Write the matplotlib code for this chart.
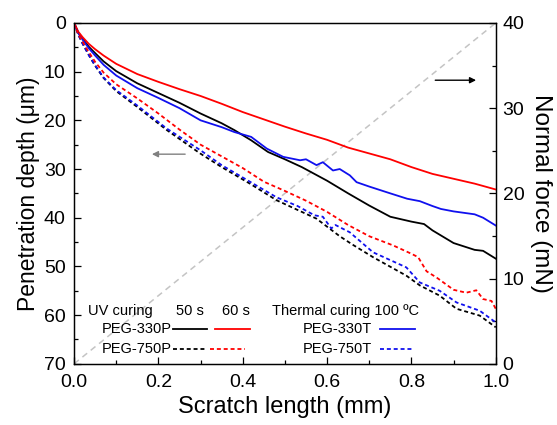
import numpy as np
import matplotlib.pyplot as plt

plt.rcParams['font.family'] = ['Liberation Sans', 'DejaVu Sans']

# --- data ---
# PEG-330P, UV curing 60 s
x_330p_60 = [0, 0.01, 0.02, 0.035, 0.05, 0.07, 0.1, 0.15, 0.2, 0.25, 0.3, 0.35, 0.4,
             0.45, 0.5, 0.55, 0.6, 0.65, 0.7, 0.75, 0.8, 0.85, 0.9, 0.95, 1.0]
d_330p_60 = [0, 1.8, 2.9, 4.3, 5.4, 6.7, 8.4, 10.5, 12.1, 13.6, 15.0, 16.6, 18.3,
             19.8, 21.3, 22.7, 24.0, 25.6, 26.8, 28.0, 29.6, 31.0, 32.0, 33.0, 34.2]

# PEG-330P, UV curing 50 s
x_330p_50 = [0, 0.01, 0.02, 0.035, 0.05, 0.07, 0.1, 0.15, 0.2, 0.25, 0.3, 0.35, 0.38,
             0.42, 0.46, 0.5, 0.54, 0.6, 0.65, 0.7, 0.75, 0.8, 0.83, 0.85, 0.9, 0.95,
             0.97, 1.0]
d_330p_50 = [0, 2.0, 3.2, 4.9, 6.2, 7.9, 9.9, 12.4, 14.4, 16.4, 18.6, 20.6, 22.0,
             24.1, 26.5, 28.0, 29.6, 32.4, 35.0, 37.5, 39.8, 40.8, 41.3, 42.6, 45.2,
             46.6, 46.8, 48.4]

# PEG-330T, thermal curing 100 C
x_330t = [0, 0.01, 0.02, 0.035, 0.05, 0.07, 0.1, 0.15, 0.2, 0.25, 0.3, 0.35, 0.38,
          0.42, 0.457, 0.496, 0.536, 0.55, 0.575, 0.59, 0.614, 0.63, 0.654, 0.67,
          0.7, 0.75, 0.79, 0.82, 0.85, 0.87, 0.9, 0.95, 0.97, 1.0]
d_330t = [0, 2.1, 3.4, 5.2, 6.7, 8.6, 10.8, 13.4, 15.4, 17.5, 20.0, 21.4, 22.4,
          23.4, 25.8, 27.5, 28.2, 28.0, 29.2, 28.6, 30.3, 30.0, 31.3, 32.7,
          33.6, 35.0, 36.1, 36.6, 37.6, 38.2, 38.7, 39.3, 40.0, 41.6]

# PEG-750P, UV curing 60 s
x_750p_60 = [0, 0.01, 0.02, 0.035, 0.05, 0.07, 0.1, 0.15, 0.2, 0.25, 0.3, 0.35, 0.4,
             0.45, 0.5, 0.55, 0.6, 0.65, 0.7, 0.757, 0.8, 0.816, 0.836, 0.86, 0.9,
             0.93, 0.954, 0.97, 0.99, 1.0]
d_750p_60 = [0, 2.3, 3.8, 6.0, 8.0, 10.2, 12.6, 15.5, 18.6, 21.9, 25.0, 27.4, 29.8,
             32.6, 34.5, 36.5, 38.8, 41.5, 43.8, 45.7, 47.4, 48.1, 51.0, 52.3, 54.8,
             55.4, 54.9, 56.7, 57.1, 58.7]

# PEG-750P, UV curing 50 s
x_750p_50 = [0, 0.01, 0.02, 0.035, 0.05, 0.07, 0.1, 0.149, 0.22, 0.299, 0.35, 0.417,
             0.48, 0.575, 0.63, 0.66, 0.709, 0.788, 0.82, 0.867, 0.907, 0.962, 1.0]
d_750p_50 = [0, 2.4, 4.2, 6.6, 8.8, 11.3, 14.0, 17.2, 22.0, 26.8, 29.6, 33.0,
             36.4, 40.2, 43.8, 45.5, 48.1, 51.9, 53.9, 56.0, 58.7, 60.1, 62.5]

# PEG-750T, thermal curing 100 C
x_750t = [0, 0.01, 0.02, 0.035, 0.05, 0.07, 0.1, 0.149, 0.22, 0.299, 0.35, 0.417,
          0.48, 0.53, 0.57, 0.59, 0.61, 0.62, 0.654, 0.709, 0.788, 0.82, 0.867,
          0.907, 0.962, 1.0]
d_750t = [0, 2.4, 4.2, 6.6, 8.7, 11.2, 13.8, 16.9, 21.7, 26.1, 29.2, 32.6,
          35.8, 37.6, 39.5, 39.8, 42.2, 41.5, 43.0, 47.1, 50.2, 53.3, 55.0,
          57.4, 59.1, 61.5]

# normal force ramp (right axis)
force_x = [0, 1.0]
force_y = [0, 40]

red = '#ff0000'
blue = '#1010ee'
dash = (0, (2.2, 1.6))

fig = plt.figure(figsize=(5.57, 4.25), dpi=100)
ax = fig.add_axes([0.133, 0.144, 0.757, 0.802])
ax2 = ax.twinx()

ax2.plot(force_x, force_y, color='#c4c4c4', lw=1.1, linestyle=(0, (4, 3)))
ax2.set_ylim(0, 40)

ax.set_zorder(ax2.get_zorder() + 1)
ax.patch.set_visible(False)

lw = 1.3
ax.plot(x_330p_50, d_330p_50, color='black', lw=lw)
ax.plot(x_330t, d_330t, color=blue, lw=lw)
ax.plot(x_330p_60, d_330p_60, color=red, lw=lw)
ax.plot(x_750p_50, d_750p_50, color='black', lw=lw, linestyle=dash)
ax.plot(x_750t, d_750t, color=blue, lw=lw, linestyle=dash)
ax.plot(x_750p_60, d_750p_60, color=red, lw=lw, linestyle=dash)

ax.set_xlim(0, 1.0)
ax.set_ylim(70, 0)
ax.set_xticks(np.arange(0, 1.01, 0.2))
ax.set_xticks(np.arange(0.1, 1.0, 0.2), minor=True)
ax.set_yticks(np.arange(0, 71, 10))
ax.set_yticks(np.arange(5, 70, 10), minor=True)
ax2.set_yticks(np.arange(0, 41, 10))
ax2.set_yticks(np.arange(5, 40, 10), minor=True)

for a in (ax, ax2):
    a.tick_params(which='both', direction='in', labelsize=14, width=0.9)
    a.tick_params(which='major', length=5)
    a.tick_params(which='minor', length=3)
    for s in a.spines.values():
        s.set_linewidth(0.9)
ax.tick_params(right=False, top=False)
ax.tick_params(axis='x', pad=7)
ax.tick_params(axis='y', pad=6)
ax2.tick_params(axis='y', pad=5)
ax.set_xticklabels(['0.0', '0.2', '0.4', '0.6', '0.8', '1.0'])

ax.set_xlabel('Scratch length (mm)', fontsize=17, labelpad=4)
ax.set_ylabel('Penetration depth (μm)', fontsize=16.5, labelpad=3)
ax2.set_ylabel('Normal force (mN)', fontsize=17.5, rotation=-90, labelpad=20)

# arrows pointing to the axes
ax.annotate('', xy=(0.178, 0.615), xytext=(0.27, 0.615), xycoords='axes fraction',
            arrowprops=dict(arrowstyle='-|>', color='#808080', lw=1.0, mutation_scale=9))
ax.annotate('', xy=(0.96, 0.832), xytext=(0.85, 0.832), xycoords='axes fraction',
            arrowprops=dict(arrowstyle='-|>', color='black', lw=1.0, mutation_scale=9))

# hand-built legend
fs = 10.5
tr = ax.transAxes
ax.text(0.033, 0.156, 'UV curing', transform=tr, fontsize=fs, va='center')
ax.text(0.242, 0.156, '50 s', transform=tr, fontsize=fs, va='center')
ax.text(0.351, 0.156, '60 s', transform=tr, fontsize=fs, va='center')
ax.text(0.469, 0.156, 'Thermal curing 100 ºC', transform=tr, fontsize=fs, va='center')
ax.text(0.232, 0.103, 'PEG-330P', transform=tr, fontsize=fs, va='center', ha='right')
ax.text(0.232, 0.044, 'PEG-750P', transform=tr, fontsize=fs, va='center', ha='right')
ax.text(0.706, 0.103, 'PEG-330T', transform=tr, fontsize=fs, va='center', ha='right')
ax.text(0.706, 0.044, 'PEG-750T', transform=tr, fontsize=fs, va='center', ha='right')
ax.plot([0.235, 0.315], [0.103, 0.103], transform=tr, color='black', lw=lw)
ax.plot([0.334, 0.417], [0.103, 0.103], transform=tr, color=red, lw=lw)
ax.plot([0.725, 0.808], [0.103, 0.103], transform=tr, color=blue, lw=lw)
ax.plot([0.235, 0.315], [0.044, 0.044], transform=tr, color='black', lw=lw, linestyle=dash)
ax.plot([0.323, 0.405], [0.044, 0.044], transform=tr, color=red, lw=lw, linestyle=dash)
ax.plot([0.725, 0.805], [0.044, 0.044], transform=tr, color=blue, lw=lw, linestyle=dash)

fig.savefig('out.png', dpi=100)
